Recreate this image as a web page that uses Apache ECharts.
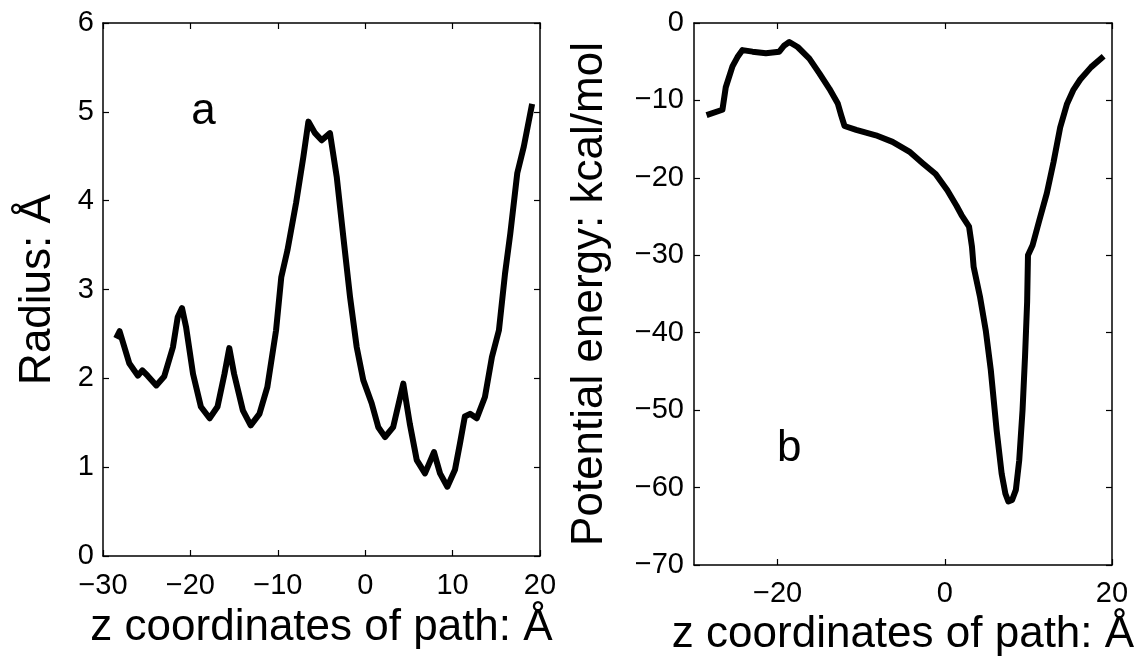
<!DOCTYPE html>
<html><head><meta charset="utf-8">
<script src="https://cdn.jsdelivr.net/npm/echarts@6/dist/echarts.min.js"></script>
<style>html,body{margin:0;padding:0;background:#fff}#c{width:1145px;height:662px}</style>
</head><body><div id="c"></div>
<script>
// Panel a: pore radius along the path
const radiusZ = [-28.5, -28.1, -27.0, -26.0, -25.5, -24.9, -23.9, -23.0, -22.0, -21.45, -20.96, -20.5, -19.7, -18.8, -17.8, -16.9, -16.1, -15.55, -15.0, -14.0, -13.1, -12.1, -11.2, -10.2, -9.6, -8.9, -7.9, -7.08, -6.5, -5.74, -4.98, -4.03, -3.26, -2.5, -1.74, -0.97, -0.22, 0.74, 1.5, 2.27, 3.2, 4.36, 5.1, 5.9, 6.84, 7.87, 8.56, 9.4, 10.27, 10.85, 11.4, 12.0, 12.76, 13.7, 14.5, 15.3, 16.0, 16.6, 17.4, 18.15, 19.1];
const radiusVal = [2.45, 2.53, 2.17, 2.03, 2.09, 2.03, 1.92, 2.02, 2.35, 2.69, 2.79, 2.58, 2.05, 1.68, 1.55, 1.68, 2.05, 2.34, 2.05, 1.64, 1.47, 1.60, 1.90, 2.54, 3.14, 3.44, 3.98, 4.49, 4.89, 4.76, 4.68, 4.76, 4.27, 3.59, 2.92, 2.35, 1.98, 1.72, 1.45, 1.34, 1.45, 1.94, 1.49, 1.08, 0.93, 1.17, 0.93, 0.78, 0.97, 1.27, 1.57, 1.60, 1.55, 1.79, 2.24, 2.54, 3.18, 3.63, 4.31, 4.61, 5.09];
// Panel b: potential energy along the path
const energyZ = [-28.5, -26.6, -26.2, -25.4, -24.8, -24.2, -23.0, -21.4, -19.8, -19.2, -18.6, -17.6, -16.2, -15.0, -13.8, -12.8, -12.4, -12.0, -10.6, -8.25, -6.25, -4.25, -2.65, -1.1, 0.3, 1.4, 2.0, 2.9, 3.25, 3.45, 4.2, 4.9, 5.5, 6.2, 6.8, 7.25, 7.6, 8.05, 8.5, 8.9, 9.3, 9.6, 9.85, 9.95, 10.5, 11.3, 12.2, 13.0, 13.8, 14.6, 15.4, 16.2, 17.5, 19.0];
const energyVal = [-11.9, -11.2, -8.3, -5.6, -4.4, -3.5, -3.7, -3.9, -3.7, -2.9, -2.45, -3.1, -4.6, -6.5, -8.5, -10.4, -11.9, -13.3, -13.8, -14.5, -15.35, -16.6, -18.1, -19.5, -21.6, -23.6, -24.8, -26.3, -28.9, -31.5, -35.3, -39.7, -44.8, -52.6, -58.2, -60.8, -61.8, -61.6, -60.3, -56.5, -50.0, -43.0, -36.0, -30.0, -28.7, -25.5, -22.0, -18.0, -13.5, -10.5, -8.6, -7.3, -5.7, -4.3];
// Tick values
const radiusXTicks = [-30, -20, -10, 0, 10, 20];
const radiusYTicks = [0, 1, 2, 3, 4, 5, 6];
const energyXTicks = [-20, 0, 20];
const energyYTicks = [-70, -60, -50, -40, -30, -20, -10, 0];
// Panel letters (data coordinates)
const panelA = [-18.5, 5.0];
const panelB = [-18.6, -55.0];

const FONT = '"Liberation Sans", Arial, Helvetica, sans-serif';
const minus = v => String(v).replace('-', '\u2212');
const zip = (a, b) => a.map((v, i) => [v, b[i]]);

function axisBase(extra) {
  return Object.assign({
    type: 'value',
    axisLine: {show: true, onZero: false, lineStyle: {color: '#000', width: 1.5}},
    axisTick: {show: true, inside: true, length: 6, lineStyle: {color: '#000', width: 1.2}},
    splitLine: {show: false},
    axisLabel: {show: false}
  }, extra);
}
function labelStyle(margin) {
  return {show: true, fontSize: 29, color: '#000', fontFamily: FONT, margin: margin, formatter: minus, showMinLabel: true, showMaxLabel: true};
}
const nameStyle = {fontSize: 44, color: '#000', fontFamily: FONT};

const chart = echarts.init(document.getElementById('c'), null, {renderer: 'canvas'});
chart.setOption({
  animation: false,
  backgroundColor: '#fff',
  grid: [
    {left: 103, top: 23, width: 437, height: 533},
    {left: 694, top: 23, width: 418, height: 542}
  ],
  xAxis: [
    axisBase({gridIndex: 0, position: 'bottom', min: radiusXTicks[0], max: radiusXTicks[radiusXTicks.length - 1], interval: 10,
      axisLabel: labelStyle(15), name: 'z coordinates of path: Å', nameLocation: 'middle', nameGap: 50, nameTextStyle: nameStyle}),
    axisBase({gridIndex: 0, position: 'top', min: radiusXTicks[0], max: radiusXTicks[radiusXTicks.length - 1], interval: 10}),
    axisBase({gridIndex: 1, position: 'bottom', min: -30, max: 20,
      axisTick: {show: true, inside: true, length: 6, customValues: energyXTicks, lineStyle: {color: '#000', width: 1.2}},
      axisLabel: Object.assign(labelStyle(14), {customValues: energyXTicks}),
      name: 'z coordinates of path: Å', nameLocation: 'middle', nameGap: 48, nameTextStyle: nameStyle}),
    axisBase({gridIndex: 1, position: 'top', min: -30, max: 20,
      axisTick: {show: true, inside: true, length: 6, customValues: energyXTicks, lineStyle: {color: '#000', width: 1.2}}})
  ],
  yAxis: [
    axisBase({gridIndex: 0, position: 'left', min: radiusYTicks[0], max: radiusYTicks[radiusYTicks.length - 1], interval: 1,
      axisLabel: labelStyle(9), name: 'Radius: Å', nameLocation: 'middle', nameGap: 43, nameTextStyle: nameStyle}),
    axisBase({gridIndex: 0, position: 'right', min: radiusYTicks[0], max: radiusYTicks[radiusYTicks.length - 1], interval: 1}),
    axisBase({gridIndex: 1, position: 'left', min: energyYTicks[0], max: energyYTicks[energyYTicks.length - 1], interval: 10,
      axisLabel: labelStyle(10), name: 'Potential energy: kcal/mol', nameLocation: 'middle', nameGap: 82, nameTextStyle: nameStyle}),
    axisBase({gridIndex: 1, position: 'right', min: energyYTicks[0], max: energyYTicks[energyYTicks.length - 1], interval: 10})
  ],
  series: [
    {type: 'line', xAxisIndex: 0, yAxisIndex: 0, data: zip(radiusZ, radiusVal), showSymbol: false, silent: true,
      lineStyle: {color: '#000', width: 6, join: 'round'}},
    {type: 'line', xAxisIndex: 2, yAxisIndex: 2, data: zip(energyZ, energyVal), showSymbol: false, silent: true,
      lineStyle: {color: '#000', width: 6, join: 'round'}}
  ]
});

// Panel letters placed through the axes' own scales
const pa = chart.convertToPixel({xAxisIndex: 0, yAxisIndex: 0}, panelA);
const pb = chart.convertToPixel({xAxisIndex: 2, yAxisIndex: 2}, panelB);
chart.setOption({
  graphic: [
    {type: 'text', x: pa[0], y: pa[1], silent: true,
      style: {text: 'a', fill: '#000', fontSize: 44, fontFamily: FONT, align: 'center', verticalAlign: 'middle'}},
    {type: 'text', x: pb[0], y: pb[1], silent: true,
      style: {text: 'b', fill: '#000', fontSize: 44, fontFamily: FONT, align: 'center', verticalAlign: 'middle'}}
  ]
});
</script></body></html>
